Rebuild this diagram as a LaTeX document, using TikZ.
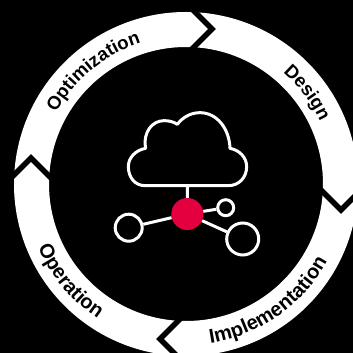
\documentclass[tikz,border=0pt]{standalone}
\usepackage{fontspec}
\setmainfont{Liberation Sans}
\usetikzlibrary{decorations.text}
\newcommand{\labelfont}{\fontsize{18.6}{18.6}\selectfont\bfseries}
\newcommand{\lowfont}{\fontsize{20}{20}\selectfont\bfseries}
\definecolor{crimson}{HTML}{E4003F}
\tikzset{
  x=1pt,y=1pt,
  iconline/.style={draw=white,line width=3pt},
  hub/.style={circle,fill=crimson,inner sep=0pt,minimum size=32pt},
  leaf/.style={circle,draw=white,line width=3pt,fill=black,inner sep=0pt},
  chevron/.style={draw=black,line width=5.6pt,miter limit=10},
  ringlabel/.style={decorate,decoration={text along path,text align=center,text={|\labelfont|#1}}},
  lowlabel/.style={decorate,decoration={text along path,text align=center,text={|\lowfont|#1}}}
}
\begin{document}
\begin{tikzpicture}
\useasboundingbox (-186,-169) rectangle (167,184);
\clip (-186,-169) rectangle (167,184);
\fill[black] (-186,-169) rectangle (167,184);
% ring
\draw[white,line width=35pt] (0,0) circle[radius=154.5];
% chevrons
\foreach \a in {0,-90,-180,-270}{
  \draw[chevron,rotate=\a] (2,179) -- (26,155) -- (2,131);
}
% labels
\path[ringlabel=Optimization] (164.5:148) arc[start angle=164.5,end angle=94.5,radius=148];
\path[ringlabel=Design] (52:148) arc[start angle=52,end angle=22,radius=148];
\path[lowlabel=Implementation] (-90:161) arc[start angle=-90,end angle=-20,radius=161];
\path[lowlabel=Operation] (195:161) arc[start angle=195,end angle=245,radius=161];
% cloud
\begin{scope}[shift={(-86,94)},x=1pt/3,y=-1pt/3]
\draw[iconline,line join=round] (135,287) -- (385,287)
  .. controls (417,287) and (440,262) .. (440,230)
  .. controls (440,202) and (418,180) .. (390,175)
  .. controls (388,115) and (350,68) .. (300,68)
  .. controls (272,68) and (248,82) .. (232,103)
  .. controls (220,95) and (207,92) .. (192,92)
  .. controls (158,92) and (128,125) .. (137,175)
  .. controls (108,180) and (85,202) .. (85,230)
  .. controls (85,262) and (105,287) .. (135,287) -- cycle;
\coordinate (cloudbase) at (262,287);
\end{scope}
% network
\node[hub] (center) at (1.3,-30) {};
\node[leaf,minimum size=16pt] (small) at (39.7,-23.7) {};
\node[leaf,minimum size=27pt] (left) at (-57.3,-43.7) {};
\node[leaf,minimum size=32pt] (right) at (56.7,-55) {};
\draw[iconline] (cloudbase) -- (center);
\draw[iconline] (center) -- (small);
\draw[iconline] (center) -- (left);
\draw[iconline] (center) -- (right);
\end{tikzpicture}
\end{document}
